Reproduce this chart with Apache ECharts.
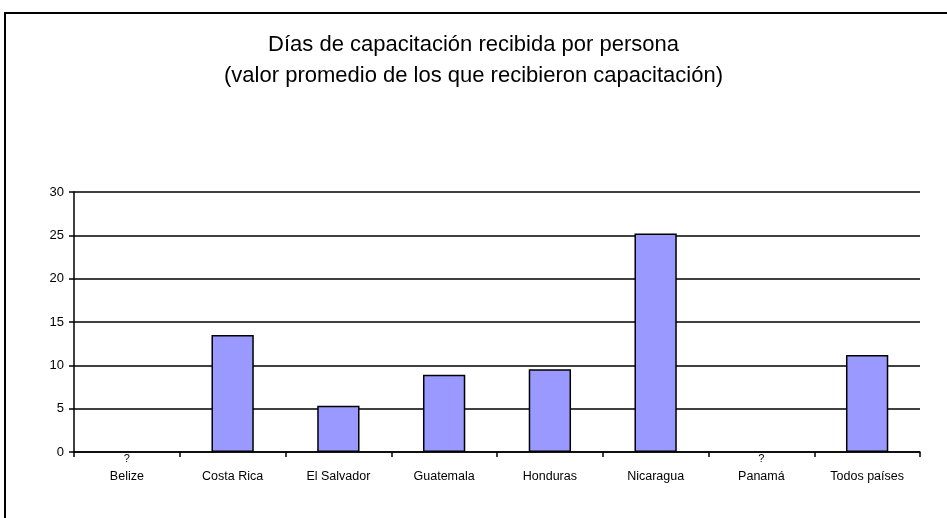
<!DOCTYPE html>
<html>
<head>
<meta charset="utf-8">
<script src="https://cdn.jsdelivr.net/npm/echarts@6/dist/echarts.min.js"></script>
<style>
  html, body { margin: 0; padding: 0; background: #fff; }
  #chart { width: 947px; height: 518px; }
</style>
</head>
<body>
<div id="chart"></div>
<script>
  var categories = ['Belize', 'Costa Rica', 'El Salvador', 'Guatemala', 'Honduras', 'Nicaragua', 'Panamá', 'Todos países']
  // null = sin dato ("?")
  var dias = [null, 13.5, 5.35, 8.9, 9.55, 25.2, null, 11.2]
  var yTicks = [0, 5, 10, 15, 20, 25, 30]

  var myChart = echarts.init(document.getElementById('chart'))
  myChart.setOption({
    animation: false,
    textStyle: { fontFamily: 'Liberation Sans, Arial, sans-serif' },
    title: {
      text: 'Días de capacitación recibida por persona\n(valor promedio de los que recibieron capacitación)',
      left: 'center',
      top: 24,
      textStyle: { fontSize: 22, fontWeight: 'normal', color: '#000', lineHeight: 31 }
    },
    graphic: [{
      type: 'rect',
      shape: { x: 5, y: 13, width: 1000, height: 600 },
      style: { fill: 'none', stroke: '#000', lineWidth: 2 },
      silent: true
    }],
    grid: { left: 74, right: 27, top: 192, bottom: 66 },
    xAxis: {
      type: 'category',
      data: categories,
      axisLine: { lineStyle: { color: '#000', width: 1.5 } },
      axisTick: { show: true, length: 5, lineStyle: { color: '#000', width: 1.5 } },
      axisLabel: {
        interval: 0,
        margin: 1,
        formatter: function (v, i) {
          return (dias[i] == null ? '{q|?}' : '{q| }') + '\n{n|' + v + '}'
        },
        rich: {
          q: { fontSize: 11, lineHeight: 11, color: '#000' },
          n: { fontSize: 12.5, lineHeight: 26, color: '#000' }
        }
      }
    },
    yAxis: {
      type: 'value',
      min: yTicks[0],
      max: yTicks[yTicks.length - 1],
      interval: 5,
      axisLine: { show: true, lineStyle: { color: '#000', width: 1.5 } },
      axisTick: { show: true, length: 5, lineStyle: { color: '#000', width: 1.5 } },
      axisLabel: { fontSize: 13, color: '#000', margin: 10 },
      splitLine: { show: true, lineStyle: { color: '#000', width: 1.5 } }
    },
    series: [{
      type: 'bar',
      data: dias,
      barWidth: '40%',
      itemStyle: { color: '#9999FF', borderColor: '#000', borderWidth: 1.5 }
    }]
  })
</script>
</body>
</html>
